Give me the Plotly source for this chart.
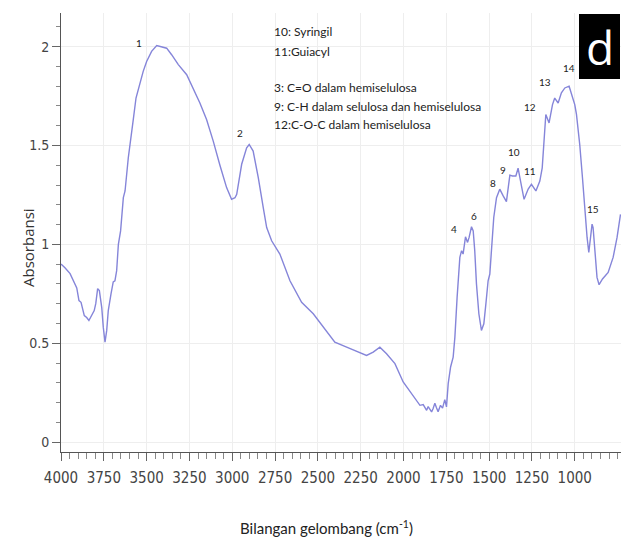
import plotly.graph_objects as go

wavenumber = [4000, 3977, 3947, 3922, 3908, 3895, 3883, 3864, 3850, 3837, 3821, 3806, 3797, 3786, 3776,
              3762, 3753, 3743, 3733, 3724, 3708, 3695, 3685, 3675, 3665, 3652, 3636, 3626, 3607, 3587,
              3578, 3562, 3543, 3520, 3500, 3471, 3441, 3412, 3383, 3354, 3315, 3266, 3228, 3189, 3150,
              3111, 3072, 3033, 3004, 2984, 2974, 2955, 2945, 2916, 2901, 2878, 2848, 2819, 2799, 2770,
              2722, 2663, 2595, 2527, 2469, 2401, 2332, 2274, 2216, 2177, 2138, 2099, 2050, 2002, 1953,
              1914, 1904, 1885, 1875, 1865, 1856, 1846, 1836, 1827, 1817, 1808, 1798, 1784, 1772, 1759,
              1749, 1739, 1725, 1710, 1700, 1687, 1671, 1661, 1652, 1638, 1626, 1617, 1603, 1593, 1584,
              1574, 1560, 1545, 1531, 1519, 1506, 1496, 1486, 1473, 1457, 1438, 1418, 1399, 1379, 1364,
              1344, 1331, 1311, 1296, 1272, 1253, 1227, 1204, 1190, 1179, 1169, 1150, 1130, 1117, 1097,
              1078, 1058, 1033, 1019, 1000, 990, 971, 955, 942, 928, 918, 909, 899, 893, 883,
              870, 858, 838, 805, 776, 753, 733]
absorbance = [0.90, 0.882, 0.852, 0.80, 0.78, 0.716, 0.707, 0.64, 0.63, 0.615, 0.64, 0.665, 0.70, 0.776, 0.766,
              0.68, 0.58, 0.505, 0.565, 0.665, 0.75, 0.81, 0.816, 0.867, 1.0, 1.068, 1.236, 1.27, 1.438, 1.589,
              1.631, 1.74, 1.808, 1.875, 1.925, 1.976, 2.005, 2.00, 1.992, 1.959, 1.909, 1.858, 1.791, 1.715, 1.631,
              1.522, 1.40, 1.287, 1.228, 1.236, 1.253, 1.34, 1.405, 1.488, 1.505, 1.472, 1.337, 1.186, 1.085, 1.018,
              0.951, 0.816, 0.707, 0.649, 0.581, 0.505, 0.48, 0.46, 0.438, 0.455, 0.48, 0.447, 0.397, 0.304, 0.245,
              0.195, 0.186, 0.19, 0.175, 0.161, 0.18, 0.165, 0.153, 0.17, 0.197, 0.175, 0.153, 0.186, 0.172, 0.215,
              0.178, 0.296, 0.38, 0.43, 0.531, 0.732, 0.934, 0.968, 0.951, 1.038, 1.01, 1.035, 1.089, 1.068, 0.968,
              0.80, 0.649, 0.565, 0.598, 0.699, 0.816, 0.85, 0.984, 1.136, 1.236, 1.279, 1.245, 1.216, 1.35, 1.346,
              1.346, 1.385, 1.295, 1.228, 1.28, 1.304, 1.27, 1.32, 1.387, 1.539, 1.657, 1.614, 1.707, 1.74, 1.715,
              1.766, 1.791, 1.80, 1.757, 1.707, 1.657, 1.505, 1.337, 1.169, 1.035, 0.959, 1.018, 1.102, 1.085, 0.951,
              0.833, 0.796, 0.825, 0.858, 0.934, 1.035, 1.152]

peak_labels = ["1", "2", "4", "6", "8", "9", "10", "11", "12", "13", "14", "15"]
peak_x = [3545, 2955, 1706, 1589, 1478, 1420, 1356, 1262, 1262, 1175, 1035, 895]
peak_y = [2.016, 1.562, 1.079, 1.144, 1.310, 1.376, 1.467, 1.371, 1.693, 1.820, 1.890, 1.179]

legend_lines = ["10: Syringil", "11:Guiacyl", "3: C=O dalam hemiselulosa",
                "9: C-H dalam selulosa dan hemiselulosa", "12:C-O-C dalam hemiselulosa"]
legend_py = [32, 51, 87, 106, 125]

x_ticks = [4000, 3750, 3500, 3250, 3000, 2750, 2500, 2250, 2000, 1750, 1500, 1250, 1000]
y_ticks = [0, 0.5, 1, 1.5, 2]
y_ticklabels = ["0", "0.5", "1", "1.5", "2"]

W, H = 626, 538
L, R, T, B = 61, 5, 13, 86
pw, ph = W - L - R, H - T - B

def px(x):
    return (x - L) / pw

def py(y):
    return (H - B - y) / ph

fig = go.Figure()
fig.add_trace(go.Scatter(x=wavenumber, y=absorbance, mode="lines",
                         line=dict(color="#8585d9", width=1.4), showlegend=False))

annotations = []
for t, x, y in zip(peak_labels, peak_x, peak_y):
    annotations.append(dict(x=x, y=y, xref="x", yref="y", text=t, showarrow=False,
                            font=dict(family="Lato, Open Sans, sans-serif", size=10, color="#222")))
for t, yy in zip(legend_lines, legend_py):
    annotations.append(dict(x=px(272), y=py(yy), xref="paper", yref="paper", text=t, showarrow=False,
                            xanchor="left", yanchor="middle",
                            font=dict(family="Lato, Open Sans, sans-serif", size=12, color="#222")))
annotations.append(dict(x=px(600), y=py(47), xref="paper", yref="paper", text="d", showarrow=False,
                        xanchor="center", yanchor="middle",
                        font=dict(family="Open Sans, sans-serif", size=46, color="white")))
annotations.append(dict(x=px(28), y=py(248), xref="paper", yref="paper", text="Absorbansi", showarrow=False,
                        textangle=-90, xanchor="center", yanchor="middle",
                        font=dict(family="Open Sans, sans-serif", size=15, color="#333")))
annotations.append(dict(x=px(326), y=py(527), xref="paper", yref="paper",
                        text="Bilangan gelombang (cm<sup>-1</sup>)", showarrow=False,
                        xanchor="center", yanchor="middle",
                        font=dict(family="Lato, Open Sans, sans-serif", size=15, color="#222")))

fig.add_shape(type="rect", xref="paper", yref="paper", x0=px(579), x1=px(620), y0=py(79), y1=py(14),
              fillcolor="black", line=dict(width=0), layer="above")

tickfont = dict(family="DejaVu Sans Condensed, Liberation Sans Narrow, Arial, sans-serif", size=14, color="#444")
fig.update_layout(
    width=W, height=H,
    margin=dict(l=L, r=R, t=T, b=B),
    paper_bgcolor="white", plot_bgcolor="white",
    annotations=annotations,
    xaxis=dict(range=[4000, 730], tickvals=x_ticks, ticktext=[str(v) for v in x_ticks],
               ticks="outside", ticklen=8, tickcolor="#666", tickwidth=1, ticklabelstandoff=4,
               minor=dict(dtick=50, tick0=0, ticks="outside", ticklen=6, tickcolor="#888", showgrid=False),
               showgrid=True, gridcolor="#eeeeee", gridwidth=1,
               showline=True, linecolor="#555", linewidth=1, zeroline=False,
               tickfont=dict(tickfont, size=15)),
    yaxis=dict(range=[-0.05, 2.17], tickvals=y_ticks, ticktext=y_ticklabels,
               ticks="outside", ticklen=8, tickcolor="#666", tickwidth=1,
               minor=dict(dtick=0.1, tick0=0, ticks="outside", ticklen=4, tickcolor="#888", showgrid=False),
               showgrid=True, gridcolor="#eeeeee", gridwidth=1,
               showline=True, linecolor="#555", linewidth=1, zeroline=False,
               tickfont=tickfont),
)

fig.write_html("out.html")
